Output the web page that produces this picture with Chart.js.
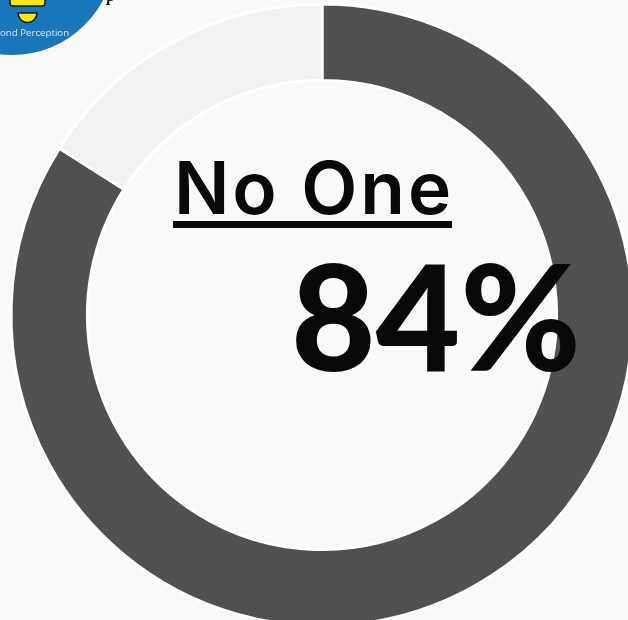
<!DOCTYPE html>
<html>
<head>
<meta charset="utf-8">
<style>
html, body { margin: 0; padding: 0; background: #f9f9f9; overflow: hidden; }
#wrap { position: absolute; left: 0; top: 0; width: 628px; height: 620px; overflow: hidden; }
#donut { position: absolute; left: -3px; top: -10px; }
</style>
<script src="https://cdn.jsdelivr.net/npm/chart.js@4"></script>
</head>
<body>
<div id="wrap"><canvas id="donut" width="650" height="650"></canvas></div>
<script>
var labels = ['No One', 'Other'];
var values = [84, 16];
var colors = ['#505050', '#f2f2f2'];
var heading = 'No One';
var bigText = '84%';
var logoText = 'ond Perception';

var overlay = {
    id: 'overlay',
    afterDraw: function (chart) {
        var ctx = chart.ctx;
        var ox = 3, oy = 10; // canvas is shifted, page coords below
        ctx.save();
        ctx.translate(ox, oy);

        // logo in the corner
        ctx.fillStyle = '#1b75bb';
        ctx.beginPath();
        ctx.arc(12, -48, 103, 0, Math.PI * 2);
        ctx.fill();
        ctx.fillStyle = '#f7e914';
        ctx.strokeStyle = '#1a1a1a';
        ctx.lineWidth = 1.5;
        ctx.beginPath();
        ctx.roundRect(10, -8, 35, 14, 3);
        ctx.fill();
        ctx.stroke();
        ctx.beginPath();
        ctx.moveTo(18, 13);
        ctx.lineTo(37, 13);
        ctx.arc(27.5, 13, 9.5, 0, Math.PI);
        ctx.closePath();
        ctx.fill();
        ctx.stroke();
        ctx.fillStyle = '#dce9f5';
        ctx.font = '9.7px "Open Sans"';
        ctx.textAlign = 'left';
        ctx.textBaseline = 'alphabetic';
        ctx.fillText(logoText, 0, 36);
        ctx.fillStyle = '#111';
        ctx.font = 'italic bold 17px "Liberation Serif"';
        ctx.fillText('p', 107, 1);

        // middle text
        ctx.fillStyle = '#080808';
        ctx.textAlign = 'center';
        ctx.font = '600 73px Inter';
        ctx.letterSpacing = '3px';
        ctx.fillText(heading, 314, 214);
        ctx.letterSpacing = '0px';
        ctx.fillRect(173, 221, 279, 7);
        ctx.font = '900 146px Lato';
        ctx.fillText(bigText, 436, 371);
        ctx.restore();
    }
};

new Chart(document.getElementById('donut').getContext('2d'), {
    type: 'doughnut',
    data: {
        labels: labels,
        datasets: [{
            data: values,
            backgroundColor: colors,
            borderColor: '#ffffff',
            borderWidth: 3
        }]
    },
    options: {
        responsive: false,
        animation: false,
        cutout: 244,
        radius: 311,
        plugins: { legend: { display: false }, tooltip: { enabled: false } }
    },
    plugins: [overlay]
});
</script>
</body>
</html>
